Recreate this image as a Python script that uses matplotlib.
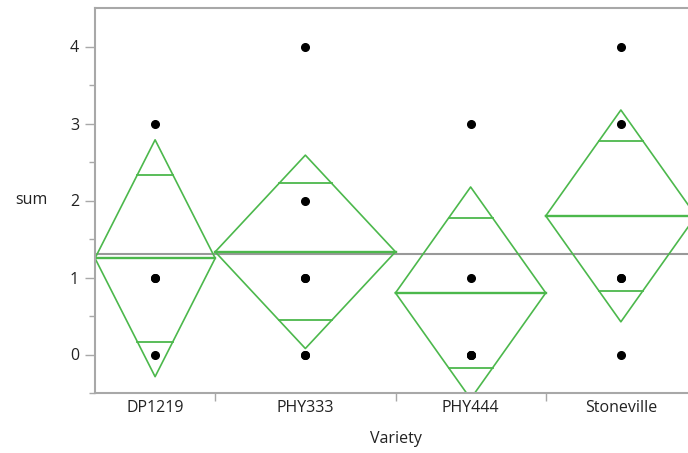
import numpy as np
import matplotlib
matplotlib.use("Agg")
import matplotlib.pyplot as plt

plt.rcParams['font.family'] = ['Open Sans', 'DejaVu Sans']

# raw responses per variety
varieties = ['DP1219', 'PHY333', 'PHY444', 'Stoneville']
values = {
    'DP1219': [3, 1, 1, 0],
    'PHY333': [4, 2, 1, 1, 0, 0],
    'PHY444': [3, 1, 0, 0, 0],
    'Stoneville': [4, 3, 1, 1, 0],
}
t_crit = 2.1199  # t(0.975, df=16)

green = '#4cb84c'
grey = '#a8a8a8'
txt = '#222222'
fs = 11.5

# pooled error for the diamonds
counts = [len(values[v]) for v in varieties]
means = [np.mean(values[v]) for v in varieties]
sse = sum(((np.array(values[v]) - np.mean(values[v])) ** 2).sum() for v in varieties)
df_err = sum(counts) - len(varieties)
rmse = np.sqrt(sse / df_err)
grand = np.mean(np.concatenate([values[v] for v in varieties]))

fig = plt.figure(figsize=(6.88, 4.53), dpi=100)
ax = fig.add_axes([95 / 688, 60 / 453, 601 / 688, 385 / 453])

# category widths proportional to group size
edges = np.concatenate([[0], np.cumsum(counts)])
centers = (edges[:-1] + edges[1:]) / 2

ax.axhline(grand, color='#999999', lw=1.5, zorder=1)

for i, v in enumerate(varieties):
    left, right, c = edges[i], edges[i + 1], centers[i]
    m = means[i]
    h = t_crit * rmse / np.sqrt(counts[i])
    ax.plot([left, c, right, c, left], [m, m + h, m, m - h, m], color=green, lw=1.2, zorder=2)
    ax.plot([left, right], [m, m], color=green, lw=1.7, zorder=2)
    # overlap marks
    d = h / np.sqrt(2)
    half = (right - left) / 2 * (1 - d / h)
    for s in (1, -1):
        ax.plot([c - half, c + half], [m + s * d, m + s * d], color=green, lw=1.3, zorder=2)
    ax.plot([c] * len(values[v]), values[v], 'o', color='black', ms=5.5, zorder=3)

ax.set_xlim(0, 20)
ax.set_ylim(-0.5, 4.5)
ax.set_yticks([0, 1, 2, 3, 4])
ax.set_yticks(np.arange(-0.5, 4.5, 0.5), minor=True)
ax.set_xticks(centers)
ax.set_xticklabels(varieties)
ax.set_xticks(edges[1:-1], minor=True)
ax.tick_params(axis='x', which='major', length=0, pad=5, labelsize=fs, labelcolor=txt)
ax.tick_params(axis='x', which='minor', length=6, width=1, color=grey)
ax.tick_params(axis='y', which='major', length=7.5, width=1, color=grey, pad=4,
               labelsize=fs, labelcolor=txt)
ax.tick_params(axis='y', which='minor', length=4.5, width=1, color=grey)

for side in ['left', 'bottom', 'top']:
    ax.spines[side].set_color(grey)
    ax.spines[side].set_linewidth(1.5)
ax.spines['right'].set_visible(False)

ax.set_ylabel('sum', rotation=0, fontsize=fs, color=txt, labelpad=28, va='center')
ax.set_xlabel('Variety', fontsize=fs, color=txt, labelpad=11)

fig.savefig('out.png', dpi=100)
